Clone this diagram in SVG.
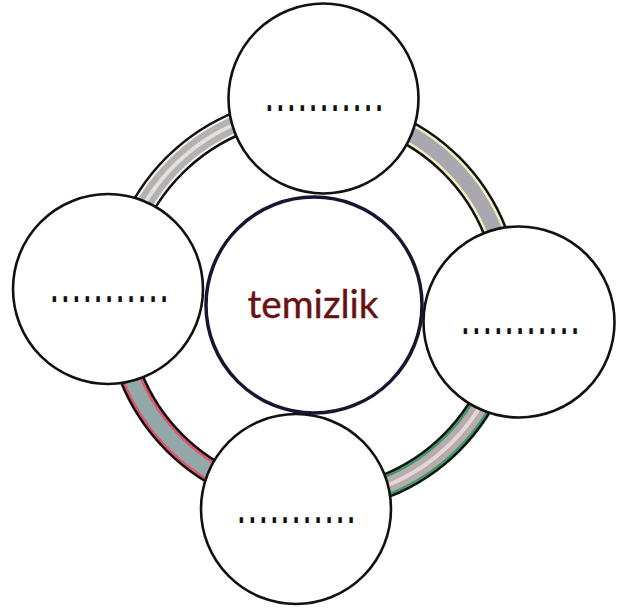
<svg xmlns="http://www.w3.org/2000/svg" width="629" height="610" viewBox="0 0 629 610">
<style>
.band{fill:none;stroke-linecap:butt}
.out{stroke:#111;stroke-width:25}
.node{fill:#fff;stroke:#111;stroke-width:2.6}
.dots{font-family:"Liberation Sans",Arial,sans-serif;font-weight:bold;font-size:24px;letter-spacing:4.3px;fill:#111}
</style>
<rect width="629" height="610" fill="#fff"/>
<g id="connectors">
  <g id="arc-tl">
    <path class="band out" d="M117,304 A196,196 0 0 1 313,108"/>
    <path class="band" stroke="#f4f4f4" stroke-width="20" d="M117,304 A196,196 0 0 1 313,108"/>
    <path class="band" stroke="#b5b1b1" stroke-width="16" d="M117,304 A196,196 0 0 1 313,108"/>
    <path class="band" stroke="#e2e0e0" stroke-width="4" d="M117,304 A196,196 0 0 1 313,108"/>
  </g>
  <g id="arc-tr">
    <path class="band out" d="M313,108 A196,196 0 0 1 509,304"/>
    <path class="band" stroke="#eeeec0" stroke-width="20" d="M313,108 A196,196 0 0 1 509,304"/>
    <path class="band" stroke="#a9a8b0" stroke-width="15" d="M313,108 A196,196 0 0 1 509,304"/>
  </g>
  <g id="arc-br">
    <path class="band out" d="M509,304 A196,196 0 0 1 313,500"/>
    <path class="band" stroke="#3f9a6a" stroke-width="20" d="M509,304 A196,196 0 0 1 313,500"/>
    <path class="band" stroke="#b9abad" stroke-width="15" d="M509,304 A196,196 0 0 1 313,500"/>
    <path class="band" stroke="#e2d8da" stroke-width="4" d="M509,304 A196,196 0 0 1 313,500"/>
  </g>
  <g id="arc-bl">
    <path class="band out" d="M313,500 A196,196 0 0 1 117,304"/>
    <path class="band" stroke="#e0566a" stroke-width="20" d="M313,500 A196,196 0 0 1 117,304"/>
    <path class="band" stroke="#93a8a8" stroke-width="15" d="M313,500 A196,196 0 0 1 117,304"/>
  </g>
</g>
<g id="node-top">
  <circle class="node" cx="323.5" cy="98.5" r="95"/>
  <text class="dots" x="266" y="67" transform="scale(1,1.65)">...........</text>
</g>
<g id="node-right">
  <circle class="node" cx="519" cy="322" r="95.5"/>
  <text class="dots" x="462" y="202.5" transform="scale(1,1.65)">...........</text>
</g>
<g id="node-bottom">
  <circle class="node" cx="296" cy="509" r="95"/>
  <text class="dots" x="238" y="317" transform="scale(1,1.65)">...........</text>
</g>
<g id="node-left">
  <circle class="node" cx="108" cy="289" r="95"/>
  <text class="dots" x="51" y="183" transform="scale(1,1.65)">...........</text>
</g>
<g id="node-center">
  <circle cx="314" cy="305" r="108" fill="#fff" stroke="#1b1430" stroke-width="3.5"/>
  <text x="313" y="318" text-anchor="middle" font-family="Lato, 'Open Sans', sans-serif" font-size="38" fill="#6a1012" stroke="#6a1012" stroke-width="0.35" textLength="131" lengthAdjust="spacingAndGlyphs">temizlik</text>
</g>
</svg>
